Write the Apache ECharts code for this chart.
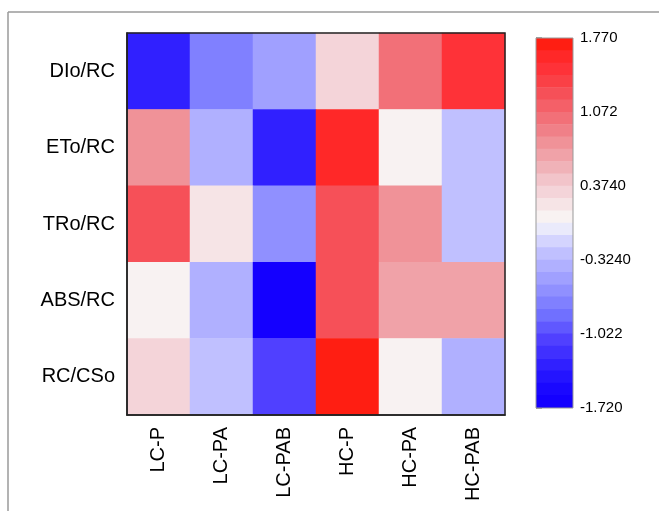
<!DOCTYPE html>
<html>
<head>
<meta charset="utf-8">
<style>
  html, body { margin: 0; padding: 0; background: #fff; }
  #main { width: 659px; height: 511px; }
</style>
<script src="https://cdn.jsdelivr.net/npm/echarts@6/dist/echarts.min.js"></script>
</head>
<body>
<div id="main"></div>
<script>
// 列（处理）和行（参数）
var groups = ['LC-P', 'LC-PA', 'LC-PAB', 'HC-P', 'HC-PA', 'HC-PAB'];
var params = ['DIo/RC', 'ETo/RC', 'TRo/RC', 'ABS/RC', 'RC/CSo'];

// 每行数值，按 groups 顺序
var rowDIo = [-1.30, -0.73, -0.50, 0.32, 1.00, 1.45];
var rowETo = [0.80, -0.38, -1.30, 1.55, 0.08, -0.27];
var rowTRo = [1.20, 0.20, -0.62, 1.20, 0.80, -0.27];
var rowABS = [0.08, -0.38, -1.72, 1.20, 0.62, 0.62];
var rowRC = [0.32, -0.27, -1.08, 1.77, 0.08, -0.38];

// 色标刻度
var scaleMin = -1.72;
var scaleMax = 1.77;
var tickValues = [-1.72, -1.022, -0.324, 0.374, 1.072, 1.77];
var tickLabels = ['-1.720', '-1.022', '-0.3240', '0.3740', '1.072', '1.770'];

// 色标的30个色块，从低到高
var pieceColors = [
  '#1400ff', '#1a08ff', '#2414ff', '#3020ff', '#4030ff', '#5040ff',
  '#6058ff', '#7070ff', '#8080ff', '#9090ff', '#a0a0ff', '#b0b0ff',
  '#c0c0ff', '#d4d4fe', '#eaeafb',
  '#f8f2f2', '#f6e4e6', '#f4d4d9', '#f2c4ca', '#f0b2b8', '#f0a2a8',
  '#f09298', '#f08088', '#f27078', '#f46068', '#f65058', '#fa4046',
  '#fe3238', '#ff2828', '#ff1e12'
];

var rows = [rowDIo, rowETo, rowTRo, rowABS, rowRC];
var data = [];
for (var r = 0; r < rows.length; r++) {
  for (var c = 0; c < groups.length; c++) {
    data.push([c, r, rows[r][c]]);
  }
}

var font = 'Liberation Sans, Arial, sans-serif';
var myChart = echarts.init(document.getElementById('main'));
myChart.setOption({
  animation: false,
  graphic: [
    { type: 'line', z: 0, shape: { x1: 8, y1: 12, x2: 659, y2: 12 }, style: { stroke: '#9a9a9a', lineWidth: 1.5 } },
    { type: 'line', z: 0, shape: { x1: 8, y1: 12, x2: 8, y2: 511 }, style: { stroke: '#9a9a9a', lineWidth: 1.5 } }
  ],
  grid: [
    { left: 127, top: 33, width: 378, height: 382, show: true, z: 5,
      borderColor: '#222', borderWidth: 1.5, backgroundColor: 'transparent' },
    { left: 536, top: 38, width: 37, height: 370, show: true, z: 5,
      borderColor: '#999', borderWidth: 1, backgroundColor: 'transparent' }
  ],
  xAxis: [
    {
      gridIndex: 0, type: 'category', data: groups, z: 10,
      axisLine: { lineStyle: { color: '#222', width: 1.5 } },
      axisTick: { alignWithLabel: true, length: 6, lineStyle: { color: '#222', width: 1.5 } },
      axisLabel: { rotate: 90, margin: 12, color: '#000', fontSize: 20, fontFamily: font },
      splitArea: { show: false }
    },
    { gridIndex: 1, type: 'value', show: false, min: 0, max: 1 }
  ],
  yAxis: [
    {
      gridIndex: 0, type: 'category', data: params, inverse: true, z: 10,
      axisLine: { lineStyle: { color: '#222', width: 1.5 } },
      axisTick: { alignWithLabel: true, length: 6, lineStyle: { color: '#222', width: 1.5 } },
      axisLabel: { margin: 12, color: '#000', fontSize: 20, fontFamily: font },
      splitArea: { show: false }
    },
    {
      gridIndex: 1, type: 'value', position: 'right', min: scaleMin, max: scaleMax,
      axisLine: { show: true, lineStyle: { color: '#999', width: 1 } },
      axisTick: { show: true, length: 6, customValues: tickValues, lineStyle: { color: '#888', width: 1.5 } },
      axisLabel: {
        margin: 7, color: '#000', fontSize: 15, fontFamily: font,
        customValues: tickValues,
        formatter: function (v) {
          for (var i = 0; i < tickValues.length; i++) {
            if (Math.abs(tickValues[i] - v) < 1e-6) return tickLabels[i];
          }
          return '';
        }
      },
      splitLine: { show: false }
    }
  ],
  visualMap: {
    type: 'piecewise',
    min: scaleMin,
    max: scaleMax,
    splitNumber: 30,
    orient: 'vertical',
    left: 536,
    top: 38,
    padding: 0,
    itemWidth: 37,
    itemHeight: (370 + 29 * 0.6) / 30,
    itemGap: -0.6,
    itemSymbol: 'rect',
    showLabel: false,
    hoverLink: false,
    selectedMode: false,
    seriesIndex: 0,
    inRange: { color: pieceColors }
  },
  series: [{
    type: 'heatmap',
    xAxisIndex: 0,
    yAxisIndex: 0,
    data: data,
    itemStyle: { borderWidth: 0 },
    emphasis: { disabled: true }
  }]
});
</script>
</body>
</html>
